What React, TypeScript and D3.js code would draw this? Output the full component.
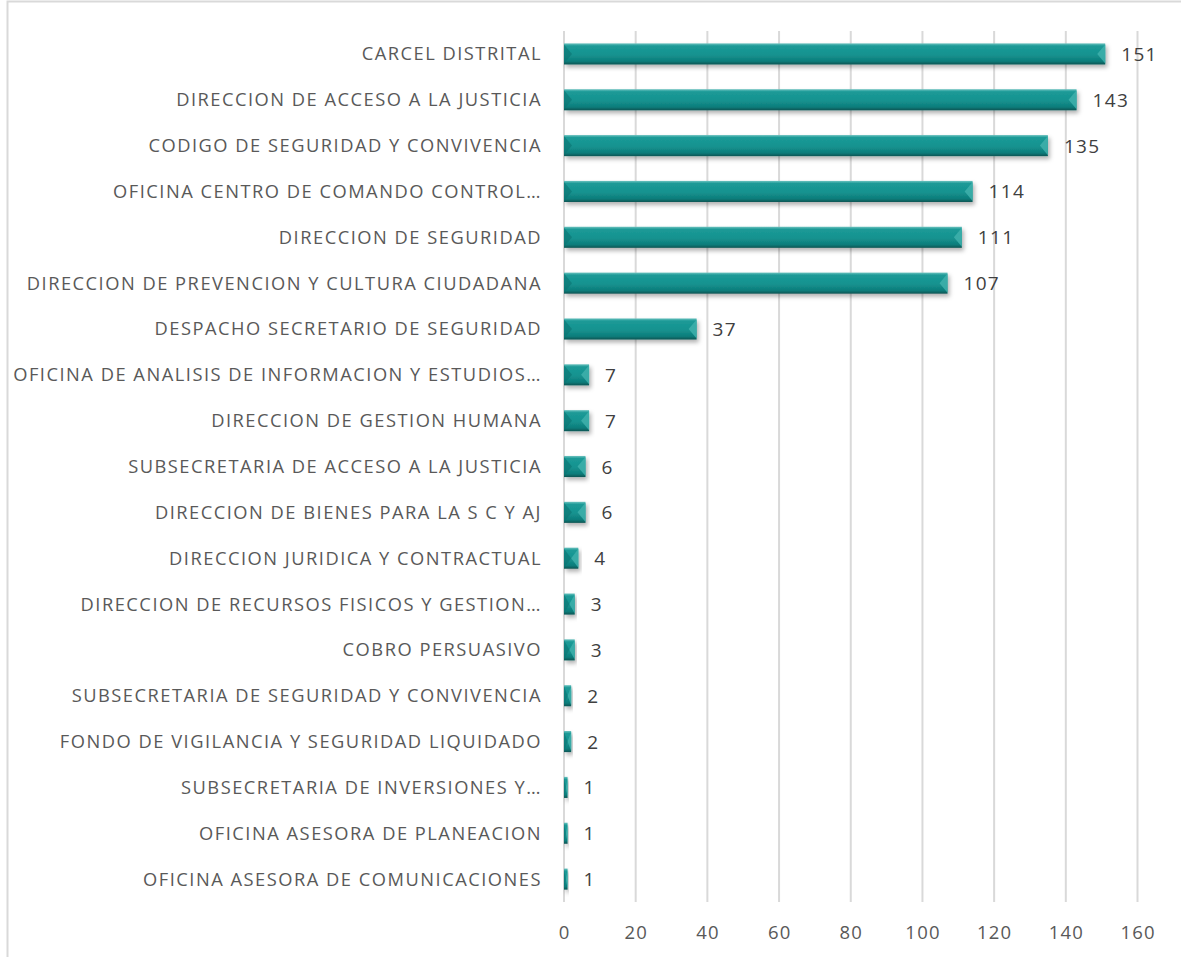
import React from "react";
import * as d3 from "d3";

const categories: string[] = [
  "CARCEL DISTRITAL",
  "DIRECCION DE ACCESO A LA JUSTICIA",
  "CODIGO DE SEGURIDAD Y CONVIVENCIA",
  "OFICINA CENTRO DE COMANDO CONTROL…",
  "DIRECCION DE SEGURIDAD",
  "DIRECCION DE PREVENCION Y CULTURA CIUDADANA",
  "DESPACHO SECRETARIO DE SEGURIDAD",
  "OFICINA DE ANALISIS DE INFORMACION Y ESTUDIOS…",
  "DIRECCION DE GESTION HUMANA",
  "SUBSECRETARIA DE ACCESO A LA JUSTICIA",
  "DIRECCION DE BIENES PARA LA S C Y AJ",
  "DIRECCION JURIDICA Y CONTRACTUAL",
  "DIRECCION DE RECURSOS FISICOS Y GESTION…",
  "COBRO PERSUASIVO",
  "SUBSECRETARIA DE SEGURIDAD Y CONVIVENCIA",
  "FONDO DE VIGILANCIA Y SEGURIDAD LIQUIDADO",
  "SUBSECRETARIA DE INVERSIONES Y…",
  "OFICINA ASESORA DE PLANEACION",
  "OFICINA ASESORA DE COMUNICACIONES",
];
const values: number[] = [151, 143, 135, 114, 111, 107, 37, 7, 7, 6, 6, 4, 3, 3, 2, 2, 1, 1, 1];
const ticks: number[] = [0, 20, 40, 60, 80, 100, 120, 140, 160];

const W = 1181;
const H = 957;
const FONT = "'Open Sans', sans-serif";

export default function App() {
  const x = d3.scaleLinear().domain([0, 160]).range([564, 1137.5]);
  const y = d3.scaleBand<string>().domain(categories).range([31, 902]).paddingInner(0.54).paddingOuter(0.27);
  const bh = y.bandwidth();

  return (
    <svg width={W} height={H} style={{ position: "absolute", left: 0, top: 0 }} fontFamily={FONT}>
      <defs>
        <linearGradient id="barGrad" x1="0" y1="0" x2="0" y2="1">
          <stop offset="0" stopColor="#6cc2bf" />
          <stop offset="0.12" stopColor="#1c9a97" />
          <stop offset="0.55" stopColor="#14928f" />
          <stop offset="0.85" stopColor="#0f7c7a" />
          <stop offset="1" stopColor="#0a5553" />
        </linearGradient>
        <filter id="shadow" x="-10%" y="-30%" width="130%" height="190%">
          <feDropShadow dx="2" dy="3" stdDeviation="2" floodColor="#000" floodOpacity="0.3" />
        </filter>
      </defs>
      <rect x={0} y={0} width={W} height={H} fill="#fff" />
      {/* chart border */}
      <rect x={7.5} y={1.5} width={W + 10} height={H + 10} fill="none" stroke="#d9d9d9" strokeWidth={2} />
      {/* gridlines */}
      {ticks.map((t) => (
        <line key={t} x1={x(t)} x2={x(t)} y1={31} y2={902} stroke="#d9d9d9" strokeWidth={2} />
      ))}
      {/* tick labels */}
      {ticks.map((t) => (
        <text key={"t" + t} x={x(t) + 0.6} y={939} textAnchor="middle" fontSize={18.5} letterSpacing={1.2} fill="#595959">
          {t}
        </text>
      ))}
      {/* bars */}
      {categories.map((c, i) => {
        const v = values[i];
        const x0 = x(0);
        const x1 = x(v);
        const y0 = y(c)!;
        const y1 = y0 + bh;
        const ym = y0 + bh / 2;
        const w = x1 - x0;
        const b = Math.min(8, w / 2);
        return (
          <g key={c}>
            <rect x={x0} y={y0} width={w} height={bh} fill="url(#barGrad)" filter="url(#shadow)" />
            {w > 3 && (
              <>
                <polygon
                  points={`${x1},${y0 + 1} ${x1 - b},${ym} ${x1},${y1 - 1}`}
                  fill="#3fb0ac"
                  opacity={0.85}
                />
                <polygon
                  points={`${x0},${y0 + 1} ${x0 + b},${ym} ${x0},${y1 - 1}`}
                  fill="#0c7371"
                  opacity={0.6}
                />
              </>
            )}
            <text x={x1 + 16} y={ym + 7} fontSize={19} letterSpacing={1.3} fill="#404040">
              {v}
            </text>
            <text x={542} y={ym + 6.5} textAnchor="end" fontSize={18.3} letterSpacing={1.5} fill="#595959">
              {c}
            </text>
          </g>
        );
      })}
    </svg>
  );
}
